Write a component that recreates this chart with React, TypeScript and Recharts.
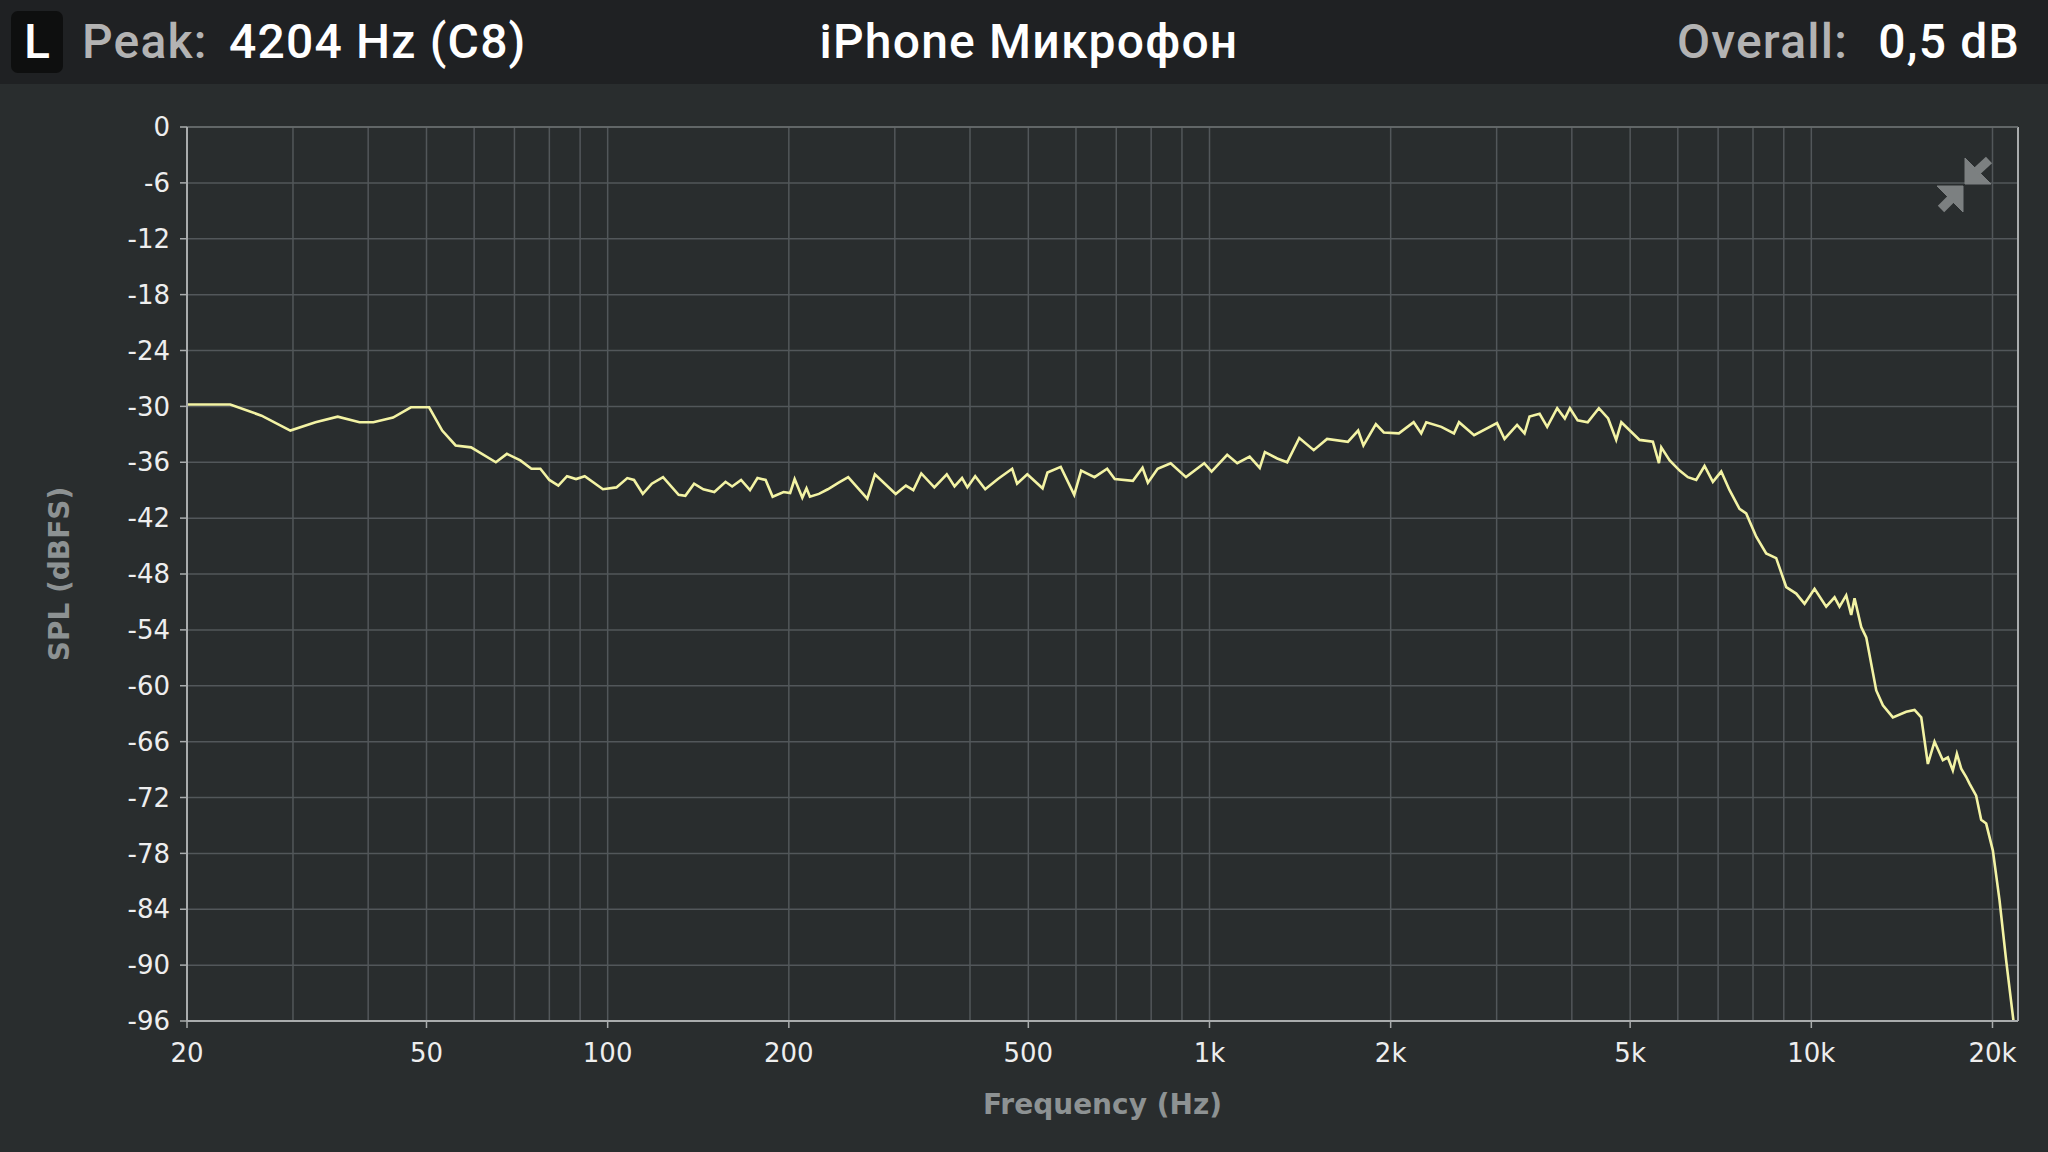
import React from 'react';
import {
    LineChart,
    Line,
    XAxis,
    YAxis,
    CartesianGrid,
    ReferenceLine,
} from 'recharts';

// frequency response (Hz, dBFS)
const freqHz = [
    20, 23.6, 26.6, 29.7, 32.7, 35.6, 38.7, 40.8, 44, 47.1, 50.5, 53.1, 55.9, 59.3, 65.2, 68, 71.6, 74.7,
    77.3, 80, 82.8, 85.6, 88.6, 91.6, 98.2, 103.4, 107.8, 110.6, 114.4, 118.4, 123.6, 131.2, 134.6, 139.2,
    144.2, 150.4, 157, 161, 166.6, 172.4, 177.4, 183, 188, 196, 201, 204.5, 210.6, 214, 216.8, 224.4, 232.2,
    242, 251, 270, 278, 301, 313, 322, 332, 349, 366, 377, 388, 396, 408, 424, 445, 470, 479, 498, 528, 538,
    566, 596, 612, 644, 676, 696, 746, 774, 790, 820, 862, 914, 980, 1008, 1070, 1112, 1166, 1212, 1236,
    1296, 1346, 1410, 1490, 1568, 1698, 1766, 1802, 1890, 1948, 2064, 2184, 2248, 2292, 2428, 2548, 2598,
    2752, 3004, 3092, 3244, 3338, 3402, 3536, 3640, 3782, 3894, 3970, 4090, 4250, 4436, 4596, 4740, 4834,
    5184, 5454, 5582, 5632, 5816, 6042, 6236, 6438, 6646, 6862, 7084, 7314, 7598, 7794, 8100, 8414, 8742,
    9084, 9438, 9744, 10124, 10586, 10930, 11140, 11428, 11648, 11798, 12104, 12338, 12820, 13150, 13662,
    14378, 14842, 15228, 15618, 16022, 16540, 16860, 17184, 17452, 17744, 18086, 18316, 18788, 19152, 19522,
    20028, 20542, 21072, 21672,
];
const splDb = [
    -29.8, -29.8, -31.0, -32.6, -31.7, -31.1, -31.7, -31.7, -31.2, -30.1, -30.1, -32.6, -34.2, -34.4, -36.0,
    -35.1, -35.8, -36.7, -36.7, -37.9, -38.5, -37.5, -37.8, -37.5, -38.9, -38.7, -37.7, -37.9, -39.4, -38.3,
    -37.6, -39.5, -39.6, -38.3, -38.9, -39.2, -38.1, -38.6, -37.9, -39.0, -37.7, -37.9, -39.7, -39.2, -39.3,
    -37.8, -39.8, -38.8, -39.7, -39.4, -38.9, -38.2, -37.6, -39.9, -37.3, -39.4, -38.5, -39.0, -37.2, -38.7,
    -37.3, -38.6, -37.7, -38.7, -37.5, -38.9, -37.8, -36.7, -38.3, -37.3, -38.8, -37.1, -36.5, -39.5, -36.9,
    -37.6, -36.7, -37.8, -38.0, -36.6, -38.2, -36.7, -36.1, -37.6, -36.1, -37.0, -35.2, -36.1, -35.4, -36.6,
    -34.9, -35.6, -36.0, -33.4, -34.7, -33.5, -33.8, -32.6, -34.2, -31.9, -32.8, -32.9, -31.7, -32.9, -31.7,
    -32.2, -32.9, -31.7, -33.1, -31.8, -33.5, -32.0, -32.9, -31.1, -30.8, -32.2, -30.2, -31.3, -30.2, -31.5,
    -31.7, -30.2, -31.3, -33.6, -31.7, -33.6, -33.8, -36.1, -34.4, -35.8, -36.9, -37.6, -37.9, -36.4, -38.1,
    -37.0, -39.0, -41.0, -41.5, -44.0, -45.8, -46.3, -49.4, -50.1, -51.2, -49.6, -51.5, -50.5, -51.5, -50.3,
    -52.4, -50.6, -53.7, -54.8, -60.5, -62.1, -63.4, -62.8, -62.6, -63.4, -68.4, -66.0, -68.0, -67.7, -69.1,
    -67.3, -68.9, -69.8, -70.5, -71.8, -74.4, -74.8, -77.7, -83.0, -89.5, -96.0,
];

const xTicks = [20, 50, 100, 200, 500, 1000, 2000, 5000, 10000, 20000];
const yTicks = [0, -6, -12, -18, -24, -30, -36, -42, -48, -54, -60, -66, -72, -78, -84, -90, -96];
const gridFreqs = [
    30, 40, 50, 60, 70, 80, 90, 100, 200, 300, 400, 500, 600, 700, 800, 900, 1000,
    2000, 3000, 4000, 5000, 6000, 7000, 8000, 9000, 10000, 20000,
];

const data = freqHz.map((f, i) => ({ f, db: splDb[i] }));

const BG = '#292d2e';
const GRID = '#52575a';
const AXIS = '#a9acad';
const TICK_FONT = "'DejaVu Sans', Verdana, sans-serif";
const HEAD_FONT = "Roboto, 'Noto Sans', sans-serif";

const fmtHz = (v: number) => (v >= 1000 ? `${v / 1000}k` : `${v}`);

const YTitle = ({ viewBox }: any) => {
    const x = viewBox.x + 61;
    const y = viewBox.y + viewBox.height / 2;
    return (
        <text x={x} y={y} transform={`rotate(-90, ${x}, ${y})`} textAnchor="middle" dominantBaseline="middle"
            fill="#8d9293" fontFamily={TICK_FONT} fontWeight="bold" fontSize={28}>
            SPL (dBFS)
        </text>
    );
};

const XTitle = ({ viewBox }: any) => (
    <text x={viewBox.x + viewBox.width / 2} y={viewBox.y + 93} textAnchor="middle"
        fill="#8d9293" fontFamily={TICK_FONT} fontWeight="bold" fontSize={28}>
        Frequency (Hz)
    </text>
);

export default function App() {
    return (
        <div style={{ position: 'absolute', left: 0, top: 0, width: 2048, height: 1152, background: BG, overflow: 'hidden' }}>
            <LineChart width={2048} height={1152} data={data}
                margin={{ top: 127, right: 30, bottom: 71, left: 0 }}>
                <CartesianGrid vertical={false} stroke={GRID} strokeWidth={1.5} />
                {gridFreqs.map((g) => (
                    <ReferenceLine key={g} x={g} stroke={GRID} strokeWidth={1.5} />
                ))}
                <ReferenceLine x={22050} stroke={AXIS} strokeWidth={2} />
                <ReferenceLine y={0} stroke="#6a6f70" strokeWidth={1.5} />
                <XAxis dataKey="f" type="number" scale="log" domain={[20, 22050]} allowDataOverflow
                    ticks={xTicks} tickFormatter={fmtHz} interval={0} height={60}
                    axisLine={{ stroke: AXIS, strokeWidth: 2 }} tickLine={{ stroke: AXIS, strokeWidth: 1.5 }}
                    tickSize={7} tickMargin={16}
                    tick={{ fill: '#eeeeee', fontSize: 26, fontFamily: TICK_FONT }}
                    label={{ content: XTitle }} />
                <YAxis type="number" domain={[-96, 0]} ticks={yTicks} interval={0} width={187}
                    axisLine={{ stroke: AXIS, strokeWidth: 2 }} tickLine={{ stroke: AXIS, strokeWidth: 1.5 }}
                    tickSize={7} tickMargin={10}
                    tick={{ fill: '#eeeeee', fontSize: 26, fontFamily: TICK_FONT }}
                    label={{ content: YTitle }} />
                <Line type="linear" dataKey="db" stroke="#f3f3a4" strokeWidth={2.6} dot={false}
                    isAnimationActive={false} />
            </LineChart>

            {/* header bar */}
            <div style={{ position: 'absolute', left: 0, top: 0, width: 2048, height: 84, background: '#1f2123',
                fontFamily: HEAD_FONT, fontSize: 48, fontWeight: 500, letterSpacing: '1.2px', lineHeight: '84px' }}>
                <div style={{ position: 'absolute', left: 11, top: 11, width: 52, height: 62, borderRadius: 7,
                    background: '#0e0f0f', color: '#fff', textAlign: 'center', lineHeight: '62px', letterSpacing: 0 }}>L</div>
                <span style={{ position: 'absolute', left: 82, color: '#b3b3b3' }}>Peak:</span>
                <span style={{ position: 'absolute', left: 229, color: '#ffffff' }}>4204 Hz (C8)</span>
                <div style={{ position: 'absolute', left: 10, right: 0, textAlign: 'center', color: '#ffffff' }}>iPhone Микрофон</div>
                <span style={{ position: 'absolute', right: 200, color: '#b3b3b3' }}>Overall:</span>
                <span style={{ position: 'absolute', right: 28, color: '#ffffff' }}>0,5 dB</span>
            </div>

            {/* collapse icon */}
            <svg style={{ position: 'absolute', left: 0, top: 0 }} width={2048} height={1152} pointerEvents="none">
                <g fill="#7c8081" stroke="#7c8081">
                    <polygon points="1965,184 1965,158 1991,184" strokeWidth={1} />
                    <line x1={1976} y1={172} x2={1989} y2={160} strokeWidth={9} />
                    <polygon points="1963,186 1963,212 1937,186" strokeWidth={1} />
                    <line x1={1952} y1={198} x2={1941} y2={209} strokeWidth={9} />
                </g>
            </svg>
        </div>
    );
}
